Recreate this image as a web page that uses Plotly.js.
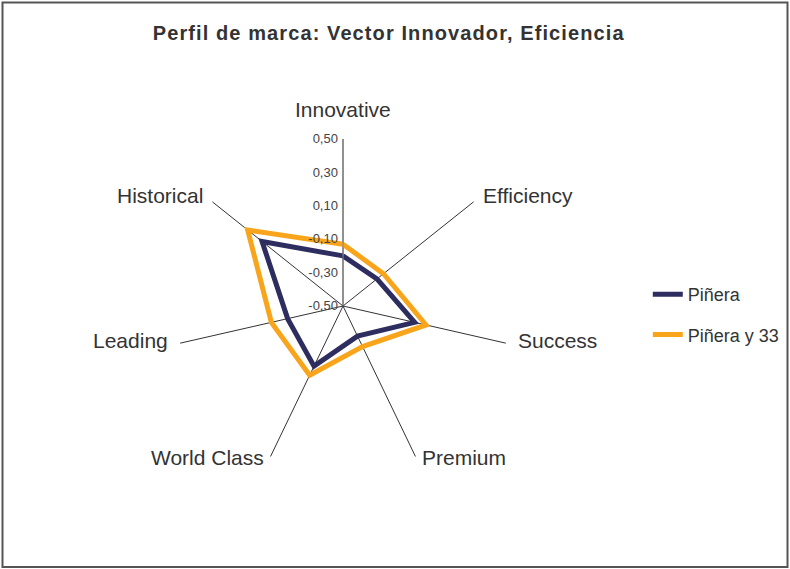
<!DOCTYPE html>
<html>
<head>
<meta charset="utf-8">
<script src="https://cdn.plot.ly/plotly-3.0.1.min.js"></script>
<style>
  body { margin: 0; background: #fff; }
  #chart { width: 790px; height: 569px; }
  #chart .gtitle { letter-spacing: 1.1px; }
</style>
</head>
<body>
<div id="chart"></div>
<script>
const attributes = ["Innovative", "Efficiency", "Success", "Premium", "World Class", "Leading", "Historical"];
const pinera = [-0.20, -0.24, -0.06, -0.30, -0.10, -0.16, 0.12];
const pineraY33 = [-0.13, -0.19, 0.01, -0.23, -0.04, -0.06, 0.23];
const radialTicks = [-0.5, -0.3, -0.1, 0.1, 0.3, 0.5];

const W = 790, H = 569;
// polar area: centre and radius in pixels
const cx = 343, cy = 306, R = 167;

// close the polygon by repeating the first point
const closed = (arr) => arr.concat([arr[0]]);

function radarTrace(name, values, color, group) {
  return {
    type: "scatterpolar",
    mode: "lines",
    name: name,
    legendgroup: group,
    r: closed(values),
    theta: closed(attributes),
    line: { color: color, width: 5 },
    hoverinfo: "name+r+theta",
  };
}

// category labels placed Excel-style just past the end of each spoke
function categoryLabels() {
  return attributes.map((label, i) => {
    const a = ((90 - (i * 360) / attributes.length) * Math.PI) / 180;
    const c = Math.cos(a), s = Math.sin(a);
    const top = Math.abs(c) < 0.1 && s > 0;
    const off = top ? 16 : 10;
    let dy = off * s;
    if (s < -0.5) dy = -1;
    else if (s < 0) dy = 3;
    return {
      text: label,
      xref: "paper",
      yref: "paper",
      x: (cx + (R + off) * c) / W,
      y: (H - cy + R * s + dy) / H,
      xanchor: Math.abs(c) < 0.1 ? "center" : c > 0 ? "left" : "right",
      yanchor: top ? "bottom" : "middle",
      showarrow: false,
      font: { size: 21, color: "#333333" },
    };
  });
}

const data = [
  radarTrace("Piñera", pinera, "#2E2D60", "a"),
  radarTrace("Piñera y 33", pineraY33, "#F8A51C", "b"),
];

const layout = {
  width: W,
  height: H,
  margin: { l: 0, r: 0, t: 0, b: 0 },
  paper_bgcolor: "#ffffff",
  font: { family: "Liberation Sans, Arial, sans-serif", color: "#333333" },
  title: {
    text: "<b>Perfil de marca: Vector Innovador, Eficiencia</b>",
    font: { size: 20, color: "#333333" },
    x: 0.492,
    xanchor: "center",
    y: 0.942,
    yanchor: "middle",
  },
  polar: {
    domain: { x: [(cx - R) / W, (cx + R) / W], y: [(H - cy - R) / H, (H - cy + R) / H] },
    bgcolor: "rgba(0,0,0,0)",
    radialaxis: {
      range: [-0.5, 0.5],
      tickvals: radialTicks,
      ticktext: radialTicks.map((v) => v.toFixed(2).replace(".", ",")),
      angle: 90,
      tickangle: 90,
      side: "counterclockwise",
      showgrid: false,
      showline: true,
      linecolor: "#888888",
      linewidth: 1,
      ticks: "",
      tickfont: { size: 13, color: "#444444" },
    },
    angularaxis: {
      direction: "clockwise",
      rotation: 90,
      showgrid: true,
      gridcolor: "#333333",
      gridwidth: 1,
      showline: false,
      ticks: "",
      showticklabels: false,
    },
  },
  annotations: categoryLabels(),
  showlegend: true,
  legend: {
    x: 0.82,
    y: 0.515,
    xanchor: "left",
    yanchor: "top",
    font: { size: 18, color: "#333333" },
    tracegroupgap: 14,
    bgcolor: "rgba(0,0,0,0)",
  },
  shapes: [
    {
      type: "rect",
      xref: "paper",
      yref: "paper",
      x0: 2.5 / W,
      x1: 787.5 / W,
      y0: 2 / H,
      y1: 566.5 / H,
      line: { color: "#555555", width: 2 },
    },
  ],
};

const config = { responsive: false, displayModeBar: false };
Plotly.newPlot("chart", data, layout, config);
</script>
</body>
</html>
